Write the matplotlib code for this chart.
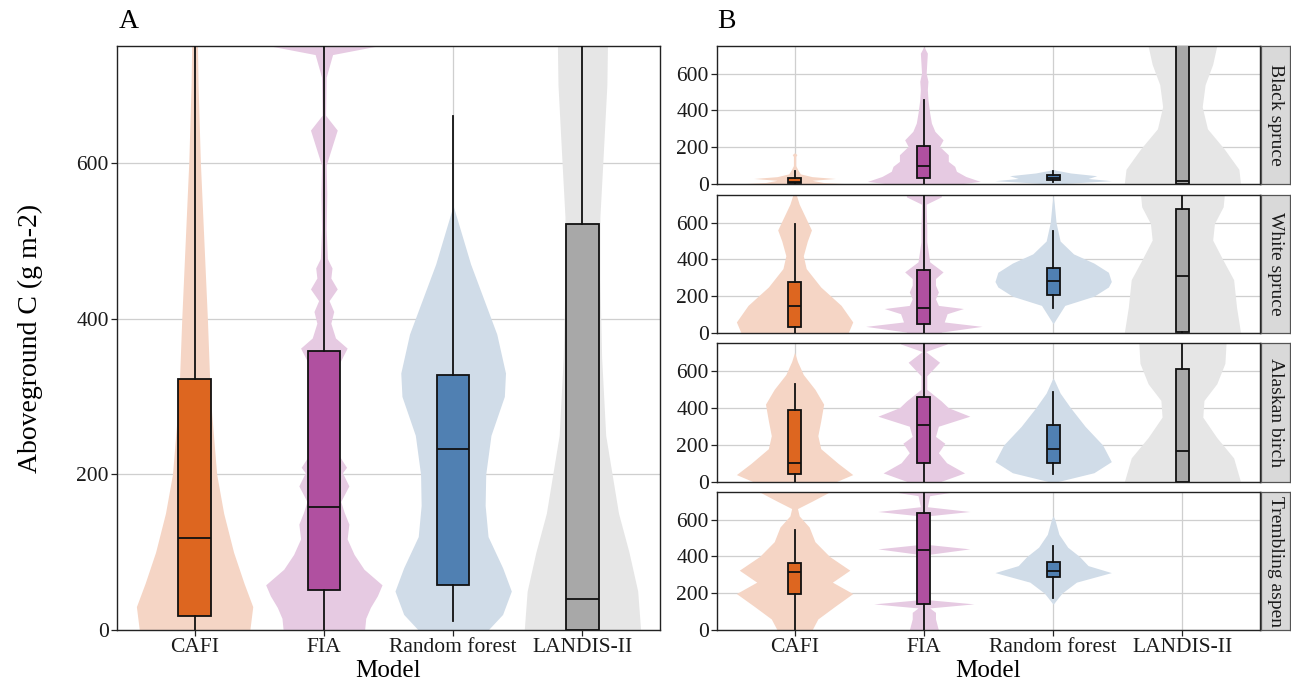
import matplotlib
matplotlib.use("Agg")
import matplotlib.pyplot as plt

# %% Style
plt.rcParams.update(
    {
        "font.family": ["Liberation Serif", "DejaVu Serif"],
        "font.size": 15,
        "axes.linewidth": 1.0,
        "axes.edgecolor": "#222222",
        "xtick.color": "#222222",
        "ytick.color": "#222222",
        "xtick.labelsize": 15.5,
        "ytick.labelsize": 15.5,
        "xtick.labelcolor": "#1a1a1a",
        "ytick.labelcolor": "#1a1a1a",
    }
)

GRID_COLOR = "#CFCFCF"
VIOLIN_HALF = 0.45
YMAX = 750

# %% Data
MODELS = ["CAFI", "FIA", "Random forest", "LANDIS-II"]
BOX_COLORS = ["#DD6620", "#B050A0", "#5080B2", "#A8A8A8"]
VIOLIN_COLORS = ["#F5D5C5", "#E6CAE2", "#D0DCE8", "#E6E6E6"]
SPECIES = ["Black spruce", "White spruce", "Alaskan birch", "Trembling aspen"]
YTICKS = [0, 200, 400, 600]

# box stats per model: [whisker low, q1, median, q3, whisker high]
BOX_A = [
    [0, 18, 118, 322, 800],
    [0, 52, 158, 358, 800],
    [12, 58, 233, 328, 660],
    [0, 0, 40, 522, 800],
]
BOX_BLACK = [
    [0, 3, 12, 33, 70],
    [0, 33, 96, 208, 459],
    [12, 22, 35, 50, 72],
    [0, 0, 18, 800, 800],
]
BOX_WHITE = [
    [0, 32, 145, 275, 590],
    [0, 50, 135, 340, 800],
    [135, 205, 280, 355, 555],
    [0, 5, 310, 673, 800],
]
BOX_BIRCH = [
    [0, 45, 105, 390, 530],
    [0, 105, 310, 460, 800],
    [45, 105, 180, 305, 485],
    [0, 0, 165, 608, 800],
]
BOX_ASPEN = [
    [0, 195, 315, 365, 545],
    [0, 140, 435, 635, 800],
    [175, 290, 320, 370, 455],
    None,
]

# violin outlines per model: (levels, relative half width)
VIOLIN_A = [
    ([0, 30, 60, 100, 150, 200, 300, 400, 500, 600, 700, 750],
     [0.95, 1.0, 0.85, 0.67, 0.5, 0.38, 0.27, 0.22, 0.16, 0.1, 0.06, 0.05]),
    ([0, 15, 29, 44, 58, 78, 97, 117, 136, 151, 165, 185, 202, 209, 224, 260, 300, 340,
      362, 375, 394, 409, 423, 438, 452, 465, 477, 515, 560, 597, 642, 661, 710, 739, 750],
     [0.7, 0.72, 0.8, 0.92, 1.0, 0.69, 0.52, 0.4, 0.43, 0.35, 0.29, 0.43, 0.32, 0.39,
      0.26, 0.2, 0.2, 0.25, 0.4, 0.2, 0.12, 0.17, 0.09, 0.23, 0.12, 0.14, 0.06, 0.04,
      0.05, 0.04, 0.23, 0.03, 0.04, 0.15, 0.92]),
    ([0, 20, 50, 80, 120, 160, 200, 250, 300, 330, 380, 420, 470, 520, 545],
     [0.6, 0.85, 1.0, 0.85, 0.6, 0.55, 0.56, 0.65, 0.88, 0.9, 0.75, 0.55, 0.3, 0.1, 0.0]),
    ([0, 50, 100, 150, 250, 350, 450, 530, 600, 700, 750],
     [1.0, 0.95, 0.8, 0.62, 0.4, 0.33, 0.3, 0.3, 0.35, 0.42, 0.43]),
]
VIOLIN_BLACK = [
    ([0, 8, 20, 30, 40, 55, 75, 100, 150, 160, 170],
     [1.0, 0.5, 0.3, 0.7, 0.3, 0.1, 0.06, 0.02, 0.02, 0.04, 0.0]),
    ([0, 14, 41, 69, 96, 123, 159, 204, 240, 286, 331, 386, 459, 513, 558, 603, 711, 747],
     [0.6, 0.97, 0.72, 0.56, 0.53, 0.42, 0.42, 0.27, 0.33, 0.19, 0.13, 0.1, 0.07, 0.06,
      0.07, 0.04, 0.06, 0.0]),
    ([0, 5, 18, 30, 45, 60, 75, 80],
     [0.1, 0.3, 1.0, 0.6, 0.75, 0.3, 0.05, 0.0]),
    ([0, 80, 190, 300, 420, 540, 650, 750],
     [1.0, 0.97, 0.72, 0.43, 0.34, 0.39, 0.52, 0.59]),
]
VIOLIN_WHITE = [
    ([0, 60, 150, 250, 350, 420, 500, 560, 620, 700, 750],
     [0.92, 1.0, 0.8, 0.45, 0.2, 0.15, 0.22, 0.29, 0.2, 0.08, 0.03]),
    ([0, 5, 36, 60, 105, 133, 150, 186, 223, 260, 296, 332, 387, 496, 568, 700, 740, 750],
     [0.3, 0.3, 1.0, 0.35, 0.4, 0.68, 0.25, 0.2, 0.25, 0.2, 0.2, 0.33, 0.1, 0.05, 0.05,
      0.04, 0.3, 0.3]),
    ([50, 100, 150, 200, 250, 280, 330, 380, 430, 500, 600, 700, 750],
     [0.0, 0.1, 0.2, 0.7, 0.95, 1.0, 0.95, 0.7, 0.35, 0.12, 0.05, 0.02, 0.0]),
    ([0, 140, 290, 395, 505, 595, 686, 750],
     [1.0, 0.93, 0.88, 0.7, 0.52, 0.55, 0.7, 0.72]),
]
VIOLIN_BIRCH = [
    ([0, 40, 100, 180, 250, 330, 420, 500, 580, 650, 700],
     [0.7, 1.0, 0.75, 0.45, 0.4, 0.45, 0.5, 0.35, 0.15, 0.05, 0.0]),
    ([0, 4, 49, 104, 158, 209, 246, 301, 355, 401, 437, 500, 573, 646, 704, 745, 750],
     [0.3, 0.3, 0.7, 0.39, 0.25, 0.36, 0.2, 0.25, 0.79, 0.42, 0.3, 0.05, 0.05, 0.27, 0.03,
      0.4, 0.4]),
    ([0, 50, 110, 200, 300, 400, 480, 550, 560],
     [0.05, 0.7, 1.0, 0.85, 0.55, 0.3, 0.12, 0.02, 0.0]),
    ([0, 130, 240, 350, 440, 530, 640, 750],
     [1.0, 0.88, 0.59, 0.35, 0.37, 0.59, 0.73, 0.75]),
]
VIOLIN_ASPEN = [
    ([0, 60, 130, 198, 260, 325, 400, 480, 560, 620, 660, 700, 750],
     [0.3, 0.4, 0.7, 1.0, 0.65, 0.95, 0.6, 0.35, 0.25, 0.08, 0.05, 0.3, 0.6]),
    ([0, 60, 96, 120, 142, 165, 250, 332, 410, 441, 465, 550, 620, 644, 670, 730, 750],
     [0.25, 0.2, 0.2, 0.1, 0.86, 0.06, 0.05, 0.05, 0.06, 0.79, 0.06, 0.05, 0.06, 0.79,
      0.06, 0.1, 0.5]),
    ([140, 200, 260, 312, 350, 400, 450, 520, 600, 620],
     [0.0, 0.15, 0.4, 1.0, 0.6, 0.45, 0.25, 0.1, 0.03, 0.0]),
    None,
]

FACET_BOX = [BOX_BLACK, BOX_WHITE, BOX_BIRCH, BOX_ASPEN]
FACET_VIOLIN = [VIOLIN_BLACK, VIOLIN_WHITE, VIOLIN_BIRCH, VIOLIN_ASPEN]


def draw_panel(ax, violins, boxes, box_width):
    positions = list(range(1, len(MODELS) + 1))
    ax.set_axisbelow(True)
    ax.grid(True, color=GRID_COLOR, linewidth=0.9)
    for i, pos in enumerate(positions):
        if violins[i] is None:
            continue
        ys, ws = violins[i]
        half = [w * VIOLIN_HALF for w in ws]
        ax.fill_betweenx(ys, [pos - h for h in half], [pos + h for h in half],
                         color=VIOLIN_COLORS[i], linewidth=0, zorder=1)
    for i, pos in enumerate(positions):
        if boxes[i] is None:
            continue
        lo, q1, med, q3, hi = boxes[i]
        stats = [{"whislo": lo, "q1": q1, "med": med, "q3": q3, "whishi": hi}]
        ax.bxp(stats, positions=[pos], widths=box_width, patch_artist=True,
               showfliers=False, showcaps=False,
               boxprops={"facecolor": BOX_COLORS[i], "edgecolor": "#111111",
                         "linewidth": 1.3},
               medianprops={"color": "#111111", "linewidth": 1.3},
               whiskerprops={"color": "#111111", "linewidth": 1.3},
               zorder=3)
    ax.set_xlim(0.4, len(MODELS) + 0.6)
    ax.set_ylim(0, YMAX)
    ax.set_yticks(YTICKS)
    ax.set_xticks(positions)
    ax.set_xticklabels(MODELS)
    ax.tick_params(length=4, width=0.9, pad=2)


W, H = 1291, 684
fig = plt.figure(figsize=(W / 100, H / 100), dpi=100)


def px_axes(left, top, right, bottom, **kw):
    return fig.add_axes([left / W, 1 - bottom / H, (right - left) / W, (bottom - top) / H], **kw)


# %% Panel A
axA = px_axes(117, 46, 660, 630)
draw_panel(axA, VIOLIN_A, BOX_A, 0.25)
axA.set_ylabel("Aboveground C (g m-2)", fontsize=20, labelpad=24)
axA.set_xlabel("Model", fontsize=18, labelpad=2)
fig.text(119 / W, 1 - 22 / H, "A", fontsize=20, va="center", ha="left")

# %% Panel B
facet_rows = [(46, 184), (195, 333), (343, 482), (492, 630)]
for k, (top, bottom) in enumerate(facet_rows):
    ax = px_axes(717, top, 1260, bottom)
    draw_panel(ax, FACET_VIOLIN[k], FACET_BOX[k], 0.1)
    if k < len(facet_rows) - 1:
        ax.tick_params(axis="x", length=0, labelbottom=False)
    else:
        ax.set_xlabel("Model", fontsize=18, labelpad=2)
    strip = px_axes(1261, top, 1290, bottom)
    strip.set_facecolor("#D9D9D9")
    strip.set_xticks([])
    strip.set_yticks([])
    for sp in strip.spines.values():
        sp.set_color("#555555")
        sp.set_linewidth(0.9)
    strip.text(0.5, 0.5, SPECIES[k], rotation=-90, ha="center", va="center",
               fontsize=14, color="#1a1a1a", transform=strip.transAxes)

fig.text(717 / W, 1 - 22 / H, "B", fontsize=20, va="center", ha="left")

fig.savefig("out.png", dpi=100)
